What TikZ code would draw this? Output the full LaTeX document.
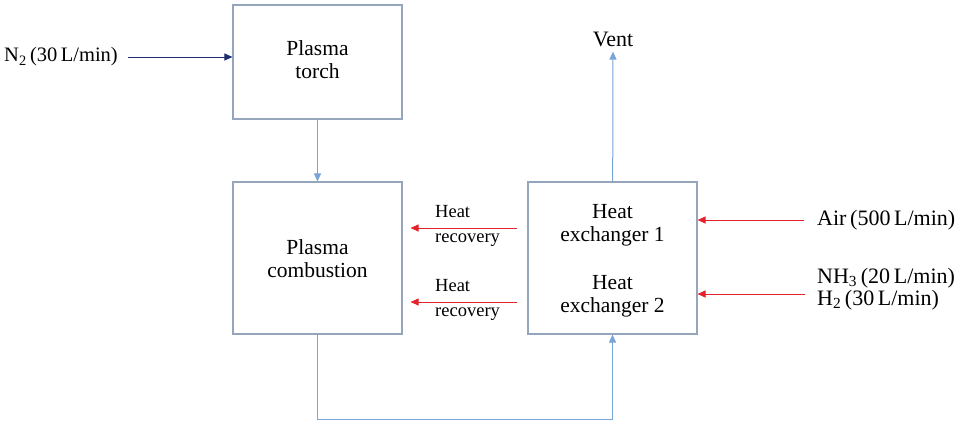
\documentclass[tikz,border=0pt]{standalone}
\usepackage{fontspec}
\setmainfont{Liberation Serif}
\usetikzlibrary{positioning,arrows.meta}

\definecolor{unitgray}{HTML}{94A5BC}
\definecolor{flowblue}{HTML}{78A4D8}
\definecolor{feednavy}{HTML}{1F2E6E}
\definecolor{heatred}{HTML}{E5222B}

\tikzset{
  unit/.style={draw=unitgray, line width=1.1pt, minimum width=169pt, inner sep=0pt},
  lbl/.style={font=\fontsize{21.5}{23}\selectfont, align=center, inner sep=0pt},
  side/.style={font=\fontsize{22}{22}\selectfont, align=left, inner sep=0pt},
  small/.style={font=\fontsize{18.5}{25}\selectfont, align=left, inner sep=0pt},
  flow/.style={draw=flowblue, line width=1pt, -{Triangle[length=8pt,width=7pt]}},
  feed/.style={draw=feednavy, line width=1pt, -{Triangle[length=8pt,width=7pt]}},
  heat/.style={draw=heatred, line width=1pt, -{Triangle[length=8pt,width=7pt]}},
}

\begin{document}
\begin{tikzpicture}[x=1pt,y=-1pt]
\useasboundingbox (0,0) rectangle (964,424);

% units
\node[unit, minimum height=114pt] (torch) at (317.5,62) {};
\node[unit, minimum height=152pt] (comb) at (317.5,258) {};
\node[unit, minimum height=152pt] (hx) at (612.5,258) {};

\node[lbl] (torchtxt) at (317.5,60) {Plasma\\torch};
\node[lbl] (combtxt) at (317.5,259) {Plasma\\combustion};
\node[lbl] (hxa) at (612.5,225.5) {Heat\\exchanger 1};
\node[lbl] (hxb) at (612.5,296) {Heat\\exchanger 2};

% streams in and out
\node[side, font=\fontsize{20.5}{22}\selectfont, anchor=east] (n2) at (118,57) {N\textsubscript{2}\,(30\,L/min)};
\node[side] (vent) at (613,39) {Vent};
\node[side, anchor=west] (air) at (817,220) {Air\,(500\,L/min)};
\node[side, anchor=west] (fuel) at (817,289) {NH\textsubscript{3}\,(20\,L/min)\\H\textsubscript{2}\,(30\,L/min)};
\node[small, anchor=west] (rec1) at (435,226) {Heat\\recovery};
\node[small, anchor=west] (rec2) at (435,300) {Heat\\recovery};

\coordinate (r1) at (517,228);
\coordinate (r2) at (517,302);
\coordinate (fuelin) at (805,294);

\draw[feed] ([xshift=10pt]n2.east) -- (torch.west |- n2.east);
\draw[flow] (torch) -- (comb);
\draw[flow] (hx) -- ([yshift=-5pt]vent.south);
\draw[heat] (r1) -- ([xshift=8pt]comb.east |- r1);
\draw[heat] (r2) -- ([xshift=8pt]comb.east |- r2);
\draw[heat] ([xshift=-13pt]air.west) -- (hx.east |- air.west);
\draw[heat] (fuelin) -- (hx.east |- fuelin);
\draw[flow] (comb.south) -- ++(0,85) -| (hx.south);
\end{tikzpicture}
\end{document}
